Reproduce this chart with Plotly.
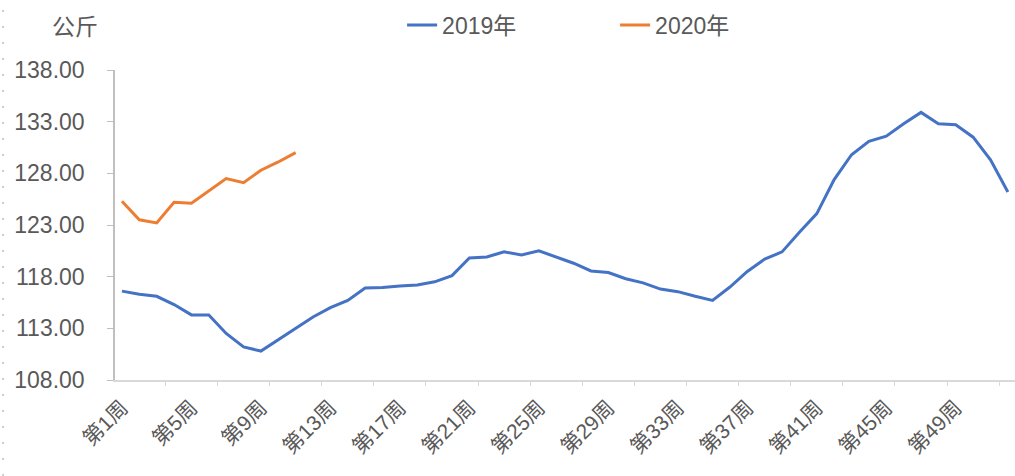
import plotly.graph_objects as go

weeks = [f"第{i}周" for i in range(1, 53)]
label_weeks = list(range(1, 53, 4))  # 第1周, 第5周, ... 第49周

values_2019 = [116.6, 116.3, 116.1, 115.3, 114.3, 114.3, 112.5, 111.2, 110.8, 111.9,
               113.0, 114.1, 115.0, 115.7, 116.9, 116.95, 117.1, 117.2, 117.5, 118.1,
               119.8, 119.9, 120.4, 120.1, 120.5, 119.9, 119.3, 118.55, 118.4, 117.8,
               117.4, 116.8, 116.55, 116.1, 115.7, 117.0, 118.5, 119.7, 120.4, 122.3,
               124.1, 127.4, 129.8, 131.1, 131.6, 132.8, 133.9, 132.8, 132.7, 131.5,
               129.3, 126.2]
values_2020 = [125.3, 123.5, 123.2, 125.2, 125.1, 126.3, 127.5, 127.1, 128.3, 129.1, 130.0]

y_ticks = [108, 113, 118, 123, 128, 133, 138]

font_family = "Liberation Sans, Noto Sans CJK SC, sans-serif"
text_color = "#595959"

x19 = list(range(len(values_2019)))
x20 = list(range(len(values_2020)))

fig = go.Figure()
fig.add_trace(go.Scatter(x=x19, y=values_2019, mode="lines", name="2019年",
                         line=dict(color="#4472C4", width=3)))
fig.add_trace(go.Scatter(x=x20, y=values_2020, mode="lines", name="2020年",
                         line=dict(color="#ED7D31", width=3)))

fig.update_layout(
    width=1015, height=476,
    margin=dict(l=115, r=0, t=70, b=96),
    paper_bgcolor="white", plot_bgcolor="white",
    font=dict(family=font_family, size=22, color=text_color),
    showlegend=True,
    legend=dict(orientation="h", x=0.319, xanchor="left", y=1.145, yanchor="middle",
                font=dict(size=23, color=text_color),
                entrywidth=168, entrywidthmode="pixels",
                bgcolor="rgba(0,0,0,0)"),
)

fig.update_xaxes(
    range=[-0.4, 51.41],
    tickmode="array",
    tickvals=[w - 1 for w in label_weeks],
    ticktext=[weeks[w - 1] for w in label_weeks],
    tickangle=-45,
    ticks="",
    showgrid=False, zeroline=False,
    showline=True, linecolor="#d9d9d9", linewidth=2,
    tickfont=dict(size=21, color=text_color),
    ticklabelstandoff=5,
    minor=dict(tickmode="linear", tick0=-0.5, dtick=3, ticks="outside",
               ticklen=4, tickcolor="#d9d9d9", showgrid=False),
)
fig.update_yaxes(
    range=[108, 138],
    tickmode="array",
    tickvals=y_ticks,
    ticktext=[f"{v:.2f}" for v in y_ticks],
    ticks="outside", ticklen=6, tickcolor="#bfbfbf",
    showgrid=False, zeroline=False,
    showline=True, linecolor="#bfbfbf", linewidth=1.5,
    tickfont=dict(size=23, color=text_color),
    ticklabelstandoff=18,
)

fig.add_annotation(text="公斤", xref="paper", yref="paper",
                   x=-0.0444, y=1.139, showarrow=False,
                   font=dict(size=23, color=text_color),
                   xanchor="center", yanchor="middle")

fig.add_shape(type="line", xref="paper", yref="paper",
              x0=-0.1244, x1=-0.1244, y0=-0.31, y1=1.23,
              line=dict(color="#bfbfbf", width=1.5, dash="2px,14px"))

fig.write_html("out.html")
